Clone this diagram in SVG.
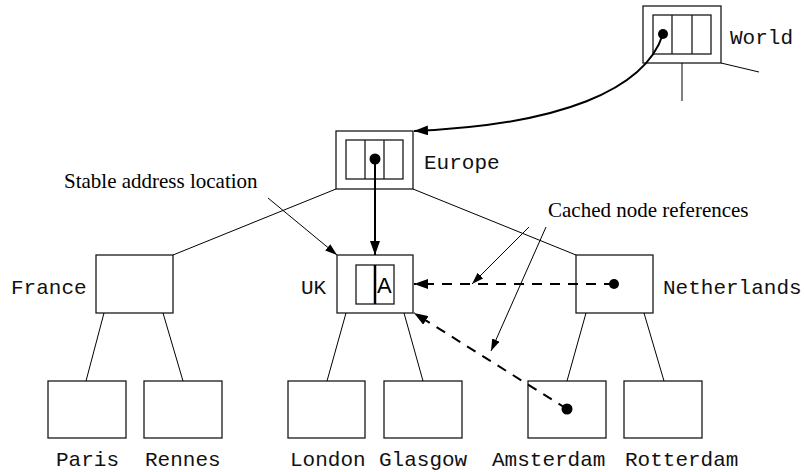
<svg xmlns="http://www.w3.org/2000/svg" width="804" height="472" viewBox="0 0 804 472">
<style>
.box{fill:#fff;stroke:#1a1a1a;stroke-width:1.3}
.in{fill:none;stroke:#1a1a1a;stroke-width:1.3}
.thin{fill:none;stroke:#000;stroke-width:1}
.thick{fill:none;stroke:#000;stroke-width:2}
.dash{fill:none;stroke:#000;stroke-width:2;stroke-dasharray:10 8}
.mono{font-family:"Liberation Mono","Courier New",monospace;font-size:21px;fill:#111}
.serif{font-family:"Liberation Serif","Times New Roman",serif;font-size:21px;fill:#000}
.dot{fill:#000}
</style>
<defs>
<marker id="ah" viewBox="0 0 14 10" refX="14" refY="5" markerWidth="14" markerHeight="10" markerUnits="userSpaceOnUse" orient="auto"><path d="M0,0 L14,5 L0,10 Z" fill="#000"/></marker>
<marker id="ahs" viewBox="0 0 12 8" refX="12" refY="4" markerWidth="12" markerHeight="8" markerUnits="userSpaceOnUse" orient="auto"><path d="M0,0 L12,4 L0,8 Z" fill="#000"/></marker>
</defs>
<g id="world">
<rect class="box" x="643" y="6" width="78" height="57"/>
<rect class="in" x="653" y="15" width="58" height="39"/>
<line class="in" x1="672" y1="15" x2="672" y2="54"/>
<line class="in" x1="692" y1="15" x2="692" y2="54"/>
<circle class="dot" cx="663" cy="34" r="5"/>
<text class="mono" x="730" y="44">World</text>
</g>
<g id="europe">
<rect class="box" x="336" y="131" width="77" height="58"/>
<rect class="in" x="346" y="140" width="57" height="39"/>
<line class="in" x1="365" y1="140" x2="365" y2="179"/>
<line class="in" x1="384" y1="140" x2="384" y2="179"/>
<circle class="dot" cx="375" cy="159" r="5.5"/>
<text class="mono" x="424" y="169">Europe</text>
</g>
<g id="france">
<rect class="box" x="96" y="255" width="77" height="58"/>
<text class="mono" x="11" y="294">France</text>
</g>
<g id="uk">
<rect class="box" x="337" y="255" width="76" height="58"/>
<rect class="in" x="356" y="265" width="38" height="39"/>
<line x1="375" y1="265" x2="375" y2="304" stroke="#000" stroke-width="2.5"/>
<text x="377" y="293" font-family="Liberation Sans, Arial, sans-serif" font-size="22" fill="#000">A</text>
<text class="mono" x="301" y="294">UK</text>
</g>
<g id="netherlands">
<rect class="box" x="576" y="255" width="77" height="58"/>
<circle class="dot" cx="614" cy="284" r="5"/>
<text class="mono" x="663" y="294">Netherlands</text>
</g>
<g id="paris">
<rect class="box" x="48" y="381" width="78" height="57"/>
<text class="mono" x="56" y="466">Paris</text>
</g>
<g id="rennes">
<rect class="box" x="144" y="381" width="78" height="57"/>
<text class="mono" x="145" y="466">Rennes</text>
</g>
<g id="london">
<rect class="box" x="288" y="381" width="77" height="57"/>
<text class="mono" x="290" y="466">London</text>
</g>
<g id="glasgow">
<rect class="box" x="384" y="381" width="78" height="57"/>
<text class="mono" x="379" y="466">Glasgow</text>
</g>
<g id="amsterdam">
<rect class="box" x="528" y="381" width="78" height="57"/>
<circle class="dot" cx="567" cy="409" r="5.5"/>
<text class="mono" x="492" y="466">Amsterdam</text>
</g>
<g id="rotterdam">
<rect class="box" x="624" y="381" width="78" height="57"/>
<text class="mono" x="625" y="466">Rotterdam</text>
</g>
<g id="labels">
<text class="serif" x="64" y="188">Stable address location</text>
<text class="serif" x="548" y="217">Cached node references</text>
</g>
<g id="connectors">
<line class="thin" x1="682" y1="63" x2="682" y2="101"/>
<line class="thin" x1="721" y1="63" x2="759" y2="72"/>
<line class="thin" x1="336" y1="189" x2="173" y2="255"/>
<line class="thin" x1="413" y1="189" x2="576" y2="255"/>
<line class="thin" x1="104" y1="313" x2="86" y2="381"/>
<line class="thin" x1="163" y1="313" x2="183" y2="381"/>
<line class="thin" x1="346" y1="313" x2="327" y2="381"/>
<line class="thin" x1="404" y1="313" x2="423" y2="381"/>
<line class="thin" x1="586" y1="313" x2="567" y2="381"/>
<line class="thin" x1="644" y1="313" x2="664" y2="381"/>
<path class="thick" d="M663,34 C645,90 560,125 414,131" marker-end="url(#ah)"/>
<line class="thick" x1="375" y1="159" x2="375" y2="255" marker-end="url(#ah)"/>
<line class="dash" x1="614" y1="284" x2="414" y2="284" marker-end="url(#ah)"/>
<line class="dash" x1="567" y1="409" x2="414" y2="313" marker-end="url(#ah)"/>
<line class="thin" x1="268" y1="198" x2="337" y2="255" marker-end="url(#ahs)"/>
<line class="thin" x1="529" y1="227" x2="472" y2="284" marker-end="url(#ahs)"/>
<line class="thin" x1="546" y1="227" x2="491" y2="351" marker-end="url(#ahs)"/>
</g>
</svg>
